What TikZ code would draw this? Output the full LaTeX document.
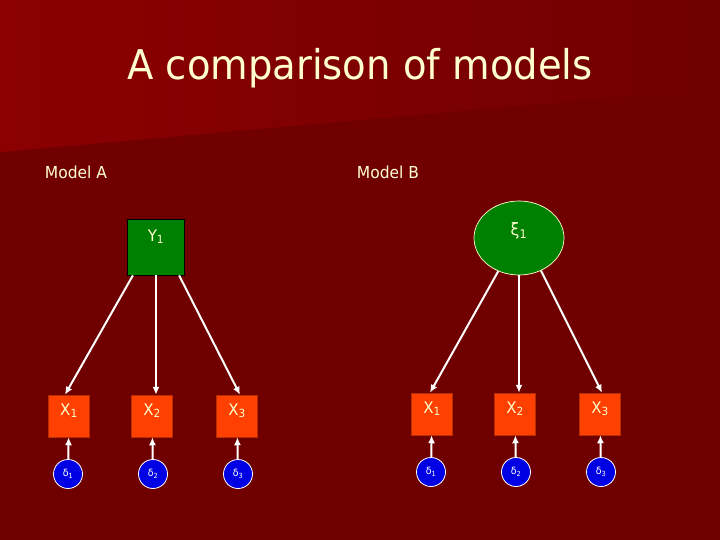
\documentclass[tikz,border=0pt]{standalone}
\usepackage{fontspec}
\setmainfont{DejaVu Sans}[FakeStretch=0.94]
\usetikzlibrary{shapes.geometric, arrows.meta, positioning, calc}

\definecolor{slidebg}{RGB}{112,0,0}
\definecolor{bandred}{RGB}{140,0,2}
\definecolor{cream}{RGB}{255,255,208}
\definecolor{latgreen}{RGB}{0,128,0}
\definecolor{obsorange}{RGB}{255,64,0}
\definecolor{errblue}{RGB}{0,0,228}

\begin{document}
\begin{tikzpicture}[
        x=1pt, y=-1pt,
        % Define styles for the different blocks
        heading/.style={text=cream, font=\fontsize{41}{45}\selectfont, inner sep=0},
        caption/.style={text=cream, font=\fontsize{16.5}{18}\selectfont, inner sep=0},
        factor/.style={rectangle, draw=black, line width=0.8pt, fill=latgreen, text=cream, inner sep=0, text width=57pt, align=center, text height=22pt, text depth=34pt, font=\fontsize{16}{18}\selectfont},
        latent/.style={ellipse, draw=cream, line width=0.7pt, fill=latgreen, text=cream, inner sep=0, minimum width=90pt, minimum height=74pt, text height=8pt, text depth=12pt, font=\fontsize{17}{19}\selectfont},
        obs/.style={rectangle, draw=obsorange!70!black, line width=0.5pt, fill=obsorange, text=cream, inner sep=0, text width=41pt, align=center, text height=20pt, text depth=22pt, font=\fontsize{16}{18}\selectfont},
        err/.style={circle, draw=white, line width=0.8pt, fill=errblue, text=white, inner sep=0, minimum size=29pt, font=\fontsize{10}{11}\selectfont},
        line/.style={draw=white, line width=2pt, -{Latex[length=8pt, width=7pt]}}
    ]

    % --- Background ---
    \useasboundingbox (0,0) rectangle (720,540);
    \fill[slidebg] (0,0) rectangle (720,540);
    \shade[left color=bandred, right color=slidebg] (0,0) -- (720,0) -- (720,88) -- (0,152) -- cycle;

    % --- Titles ---
    \node [heading] (title) at (360,68) {A comparison of models};
    \node [caption] (capA) at (76,172) {Model A};
    \node [caption] (capB) at (388,172) {Model B};

    % --- Model A ---
    \node [factor] (yA) at (156,247) {Y\textsubscript{1}};

    \node [obs] (xA1) at (69,416) {X\textsubscript{1}};
    \node [obs] (xA2) at (152,416) {X\textsubscript{2}};
    \node [obs] (xA3) at (237,416) {X\textsubscript{3}};

    \node [err] (dA1) at (68,474) {δ\textsubscript{1}};
    \node [err] (dA2) at (153,474) {δ\textsubscript{2}};
    \node [err] (dA3) at (238,474) {δ\textsubscript{3}};

    % --- Model B ---
    \node [latent] (xi) at (519,238) {ξ\textsubscript{1}};

    \node [obs] (xB1) at (432,414) {X\textsubscript{1}};
    \node [obs] (xB2) at (515,414) {X\textsubscript{2}};
    \node [obs] (xB3) at (600,414) {X\textsubscript{3}};

    \node [err] (dB1) at (431,472) {δ\textsubscript{1}};
    \node [err] (dB2) at (516,472) {δ\textsubscript{2}};
    \node [err] (dB3) at (601,472) {δ\textsubscript{3}};

    % --- Edges (Arrows) ---
    \path [line] ($(yA.south west)!0.1!(yA.south east)$) -- ([xshift=-4pt]xA1.north);
    \path [line] (yA.south) -- (yA.south |- xA2.north);
    \path [line] ($(yA.south west)!0.9!(yA.south east)$) -- ([xshift=3pt]xA3.north);

    \path [line] (xi.238) -- ([xshift=-2pt]xB1.north);
    \path [line] (xi.south) -- (xi.south |- xB2.north);
    \path [line] (xi.304) -- ([xshift=2pt]xB3.north);

    % error terms
    \path [line] (dA1) -- (xA1);
    \path [line] (dA2) -- (xA2);
    \path [line] (dA3) -- (xA3);
    \path [line] (dB1) -- (xB1);
    \path [line] (dB2) -- (xB2);
    \path [line] (dB3) -- (xB3);

\end{tikzpicture}
\end{document}
